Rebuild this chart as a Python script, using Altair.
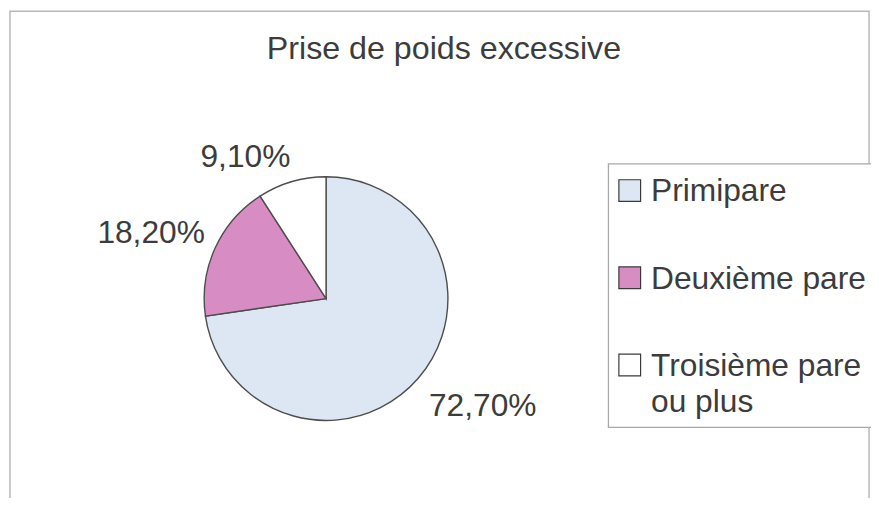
import altair as alt
import pandas as pd

categories = ["Primipare", "Deuxième pare", "Troisième pare ou plus"]
values = [72.7, 18.2, 9.1]
labels = ["72,70%", "18,20%", "9,10%"]
colors = ["#dde6f3", "#d88cc4", "#ffffff"]
title_text = "Prise de poids excessive"

df = pd.DataFrame({"idx": [0, 1, 2], "category": categories, "value": values, "label": labels})

FONT = "Liberation Sans"
TXT = "#3c3c3c"
FS = 32
CX, CY, R = 321, 291, 123

base = alt.Chart(df)

one = pd.DataFrame({"k": [0]})

frame = alt.Chart(one).mark_rect(
    fill="white", stroke="#b8b8b8", strokeWidth=1.5
).encode(x=alt.value(2), x2=alt.value(869), y=alt.value(1), y2=alt.value(530))

title = alt.Chart(pd.DataFrame({"t": [title_text]})).mark_text(
    font=FONT, fontSize=FS + 0.5, color=TXT, align="center", baseline="alphabetic"
).encode(text="t:N", x=alt.value(440), y=alt.value(49))

color_scale = alt.Scale(domain=categories, range=colors)

pie = base.mark_arc(outerRadius=R, stroke="#4d4d4d", strokeWidth=1.4).encode(
    theta=alt.Theta("value:Q", stack=True),
    color=alt.Color("category:N", scale=color_scale, sort=categories, legend=None),
    order=alt.Order("idx:Q"),
    x=alt.value(CX),
    y=alt.value(CY),
)

lab = (
    base.transform_joinaggregate(total="sum(value)")
    .transform_window(cum="sum(value)", sort=[alt.SortField("idx")], frame=[None, 0])
    .transform_calculate(mid="(datum.cum - datum.value / 2) / datum.total * 2 * PI")
)

def label_layer(cat, radius, align, dx=0, dy=0):
    return lab.transform_filter(alt.datum.category == cat).mark_text(
        font=FONT, fontSize=FS, color=TXT, radius=radius, align=align,
        baseline="alphabetic", dx=dx, dy=dy
    ).encode(
        theta=alt.Theta("mid:Q", scale=None),
        text="label:N",
        x=alt.value(CX),
        y=alt.value(CY),
    )

l1 = label_layer("Primipare", 140, "left", -2, 27)
l2 = label_layer("Deuxième pare", 130, "right", -4, -2)
l3 = label_layer("Troisième pare ou plus", 135, "right", 2, -3)

# legend (drawn from the categories through a point scale)
leg_box = alt.Chart(one).mark_rect(
    fill="white", stroke="#a8a8a8", strokeWidth=1.3
).encode(x=alt.value(606), x2=alt.value(900), y=alt.value(155), y2=alt.value(421))

leg_y = alt.Y("category:N", sort=categories,
              scale=alt.Scale(type="point", domain=categories, range=[182, 358], padding=0),
              axis=None)

leg_sym = base.mark_square(size=480, stroke="#3a3a3a", strokeWidth=1.2, opacity=1).encode(
    x=alt.value(627.5),
    y=leg_y,
    color=alt.Color("category:N", scale=color_scale, legend=None),
)

leg_txt = base.transform_calculate(
    leg="datum.category == 'Troisième pare ou plus' ? ['Troisième pare', 'ou plus'] : datum.category"
).mark_text(
    font=FONT, fontSize=FS, color=TXT, align="left", baseline="alphabetic",
    dy=11, lineHeight=36
).encode(x=alt.value(649), y=leg_y, text="leg:N")

chart = alt.layer(frame, title, pie, l1, l2, l3, leg_box, leg_sym, leg_txt).properties(
    width=871, height=490, autosize=alt.AutoSizeParams(type="none"), padding=0
).configure_view(stroke=None)

chart.save("out.html", embed_options={"renderer": "svg", "actions": False})
